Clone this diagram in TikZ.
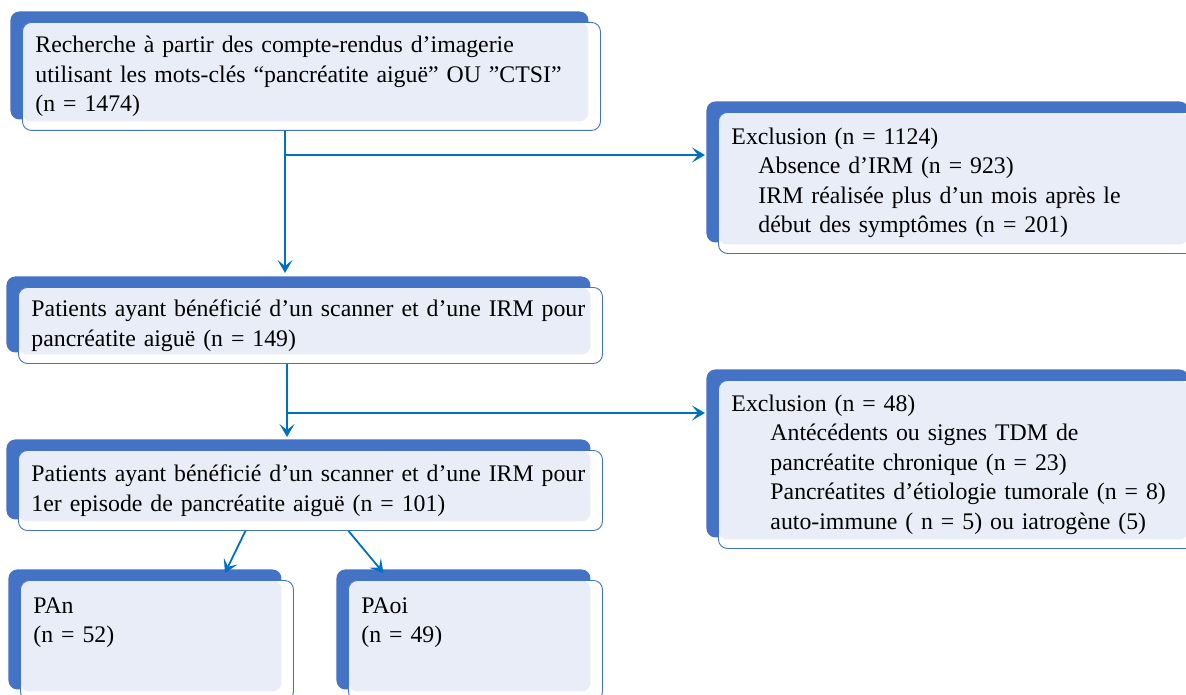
\documentclass[tikz,border=0pt]{standalone}
\usepackage{fontspec}
\setmainfont{Liberation Serif}
\usetikzlibrary{arrows.meta,positioning,calc}
\definecolor{BOXDK}{RGB}{68,114,196}
\definecolor{BOXLT}{RGB}{233,237,247}
\definecolor{ARROW}{RGB}{0,112,192}

\begin{document}
\begin{tikzpicture}[x=1pt,y=-1pt,font=\fontsize{23.8}{29.5}\selectfont,>={Stealth[length=13pt,width=15pt,inset=6pt]}]
    \tikzset{flow/.style={draw=BOXDK,line width=0.9pt,fill=white,rounded corners=9pt,anchor=north west,align=left,inner xsep=13pt,inner ysep=0pt,
        preaction={fill=BOXDK,transform canvas={xshift=-12pt,yshift=11pt}},
        path picture={\fill[BOXLT,rounded corners=9pt] (path picture bounding box.north west) rectangle ([xshift=-12pt,yshift=9pt]path picture bounding box.south east);}},
      link/.style={->,ARROW,line width=1.8pt}}
    \useasboundingbox (0,0) rectangle (1186,695);
    \node[flow,text width=552pt,minimum height=108pt] (search) at (22,22) {Recherche à partir des compte-rendus d’imagerie\\utilisant les mots-clés “pancréatite aiguë” OU ”CTSI”\\(n = 1474)};
    \node[flow,text width=456pt,minimum height=141pt] (excl1) at (718,112) {Exclusion (n = 1124)\\\hspace*{27pt}Absence d’IRM (n = 923)\\\hspace*{27pt}IRM réalisée plus d’un mois après le\\\hspace*{27pt}début des symptômes (n = 201)};
    \node[flow,text width=558pt,minimum height=76pt] (pat1) at (18,287) {Patients ayant bénéficié d’un scanner et d’une IRM pour\\pancréatite aiguë (n = 149)};
    \node[flow,text width=456pt,minimum height=168pt] (excl2) at (718,380) {Exclusion (n = 48)\\\hspace*{39pt}Antécédents ou signes TDM de\\\hspace*{39pt}pancréatite chronique (n = 23)\\\hspace*{39pt}Pancréatites d’étiologie tumorale (n = 8)\\\hspace*{39pt}auto-immune ( n = 5) ou iatrogène (5)};
    \node[flow,text width=558pt,minimum height=80pt] (pat2) at (18,450) {Patients ayant bénéficié d’un scanner et d’une IRM pour\\1er episode de pancréatite aiguë (n = 101)};
    \node[flow,text width=247pt,text height=33pt,text depth=87pt] (pan) at (20,580) {PAn\\(n = 52)};
    \node[flow,text width=228pt,text height=33pt,text depth=87pt] (paoi) at (348,580) {PAoi\\(n = 49)};
    % splits towards the exclusions
    \coordinate (split1) at (285,155);
    \coordinate (split2) at (287,413);
    \draw[link] (split1 |- search.south) -- ([yshift=14pt]split1 |- pat1.north);
    \draw[link] (split1) -- ([xshift=-13pt]excl1.west |- split1);
    \draw[link] (split2 |- pat1.south) -- ([yshift=13pt]split2 |- pat2.north);
    \draw[link] (split2) -- ([xshift=-13pt]excl2.west |- split2);
    % the two groups
    \draw[link] ([xshift=-65pt]pat2.south) -- ([xshift=68pt,yshift=7pt]pan.north);
    \draw[link] ([xshift=38pt]pat2.south) -- ([xshift=-92pt,yshift=7pt]paoi.north);
  \end{tikzpicture}
\end{document}
